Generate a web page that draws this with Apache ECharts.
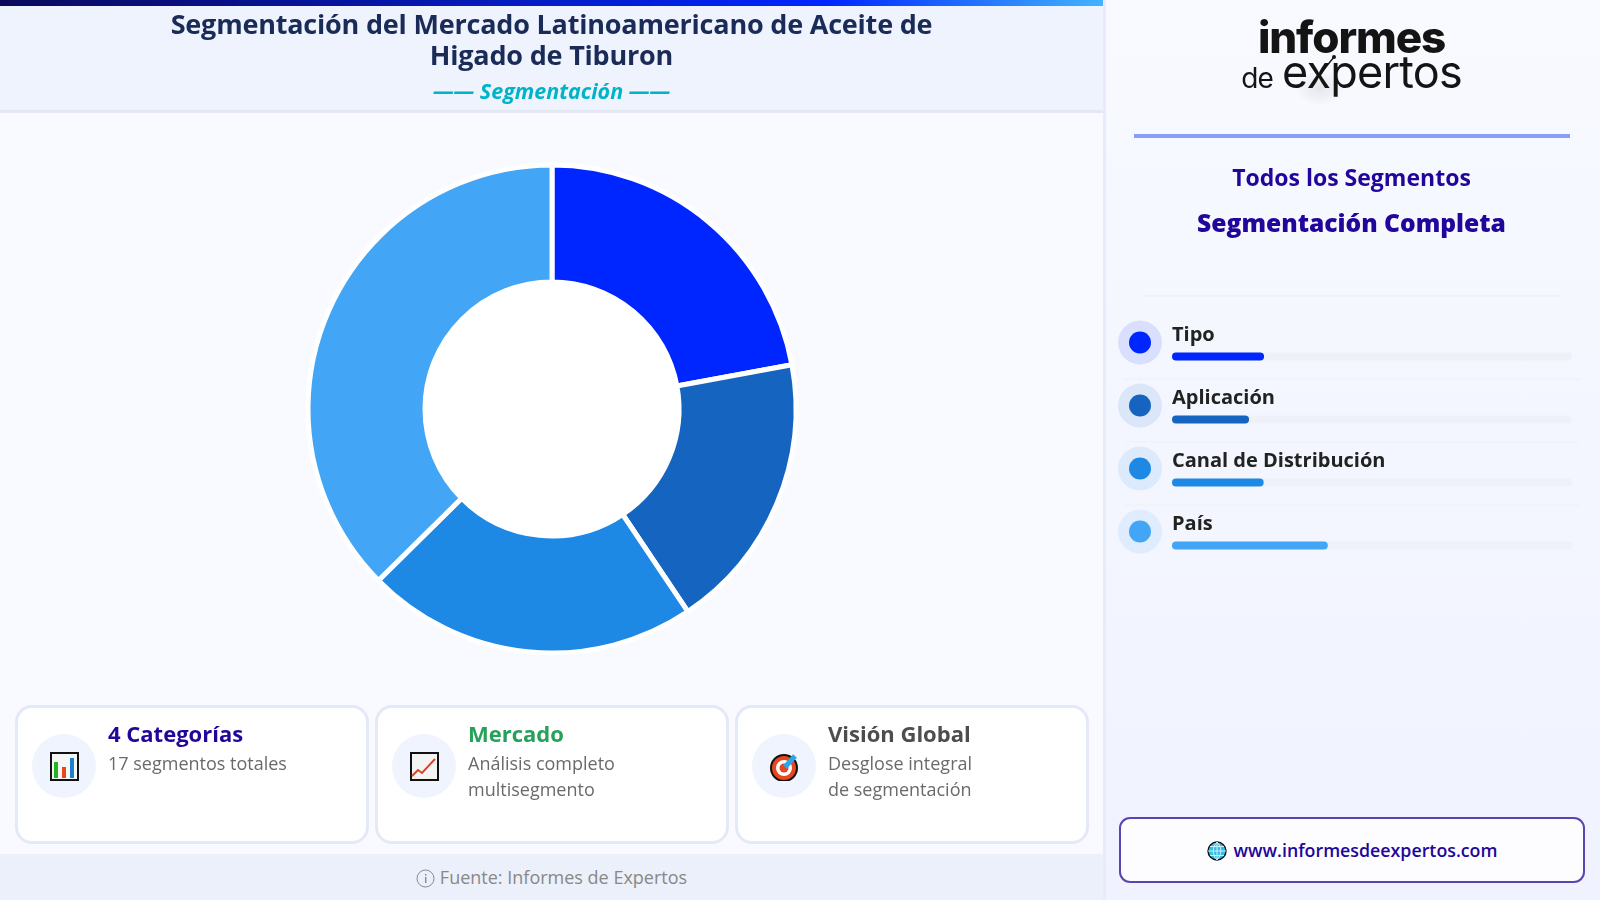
<!DOCTYPE html>
<html lang="es"><head><meta charset="utf-8">
<script src="https://cdn.jsdelivr.net/npm/echarts@6/dist/echarts.min.js"></script>
<style>
*{box-sizing:border-box;margin:0;padding:0}
html,body{width:1600px;height:900px;overflow:hidden;font-family:"Noto Sans","Open Sans",sans-serif;background:#f8faff}
.abs{position:absolute}
#chart{position:absolute;left:0;top:0;width:1600px;height:900px;z-index:1}
#topbar{left:0;top:0;width:1103px;height:6px;background:linear-gradient(90deg,#0a0a5c,#0026ff 75%,#42b4ff)}
#header{left:0;top:6px;width:1103px;height:107px;background:#eef3fe;border-bottom:3px solid #e3e9f4}
#title{left:100px;top:8px;width:903px;text-align:center;font-family:"Open Sans";font-weight:700;font-size:27px;line-height:31px;color:#1a2b57;letter-spacing:-.2px}
#sub{left:0;top:77px;width:1103px;text-align:center;font-family:"Open Sans";font-style:italic;font-weight:700;font-size:21.5px;line-height:28px;color:#00b4c8}
#side{left:1103px;top:0;width:497px;height:900px;background:linear-gradient(180deg,#f8faff,#f0f2ff);border-left:3px solid #e6ecfa}
#hole{left:426px;top:283px;width:252px;height:252px;border-radius:50%;background:#fff;border:1.5px solid #f3f6fc}
.card{top:705px;height:139px;background:#fff;border:3px solid #e3e9f6;border-radius:17px}
.ic{top:734px;width:64px;height:64px;border-radius:50%;background:#f0f4fe}
.ic svg{position:absolute;left:18px;top:18px;width:29px;height:29px}
.ct{top:719px;font-weight:700;font-size:22px;line-height:29px;font-family:"Open Sans"}
.cs{top:750px;font-size:18px;line-height:26px;color:#6a6a6a;font-family:"Open Sans";white-space:pre-line}
#foot{left:0;top:854px;width:1103px;height:46px;background:#ebf0fa;color:#888;font-size:18px;line-height:46px;text-align:center;font-family:"Open Sans"}
#foot svg{width:19px;height:19px;vertical-align:-4px;margin-right:5px}
#logo1{left:1103px;top:12px;width:497px;text-align:center;font-family:Inter;font-weight:800;font-size:44px;line-height:50px;color:#141414;letter-spacing:-1.1px}
#logo2{left:1103px;top:44px;width:497px;text-align:center;font-family:Inter;font-weight:400;color:#141414;line-height:56px;letter-spacing:-.8px}
#glow{left:1295px;top:70px;width:50px;height:36px;border-radius:50%;background:radial-gradient(closest-side,rgba(0,0,0,.08),rgba(0,0,0,0))}
#slash{left:1315px;top:52px;width:26px;height:26px}
#rule{left:1134px;top:134px;width:436px;height:4px;background:#8a9ef5}
#s1{left:1103px;top:159px;width:497px;text-align:center;font-weight:700;font-size:23px;line-height:36px;color:#22059a;font-family:"Open Sans"}
#s2{left:1103px;top:205px;width:497px;text-align:center;font-weight:800;font-size:24.6px;line-height:36px;color:#22059a;font-family:"Open Sans"}
#thin{left:1144px;top:295px;width:416px;height:2px;background:#eef1f8}
.sep{left:1124px;width:456px;height:2px;background:#f1f3fb}
#url{left:1119px;top:817px;width:466px;height:66px;background:#fdfdff;border:2.5px solid #5a45b0;border-radius:11px;text-align:center;font-weight:600;font-size:17.8px;line-height:62px;color:#22059a;font-family:"Open Sans"}
#url svg{width:20px;height:20px;vertical-align:-4px;margin-right:7px}
.t{z-index:2}
</style></head><body>
<div class="abs" id="topbar"></div>
<div class="abs" id="header"></div>
<div class="abs t" id="title">Segmentación del Mercado Latinoamericano de Aceite de<br>Higado de Tiburon</div>
<div class="abs t" id="sub">—— Segmentación ——</div>
<div class="abs" id="side"></div>
<div class="abs" id="hole"></div>
<div class="abs" id="glow"></div>
<div class="abs t" id="logo1">informes</div>
<div class="abs t" id="logo2"><span style="font-size:28px;margin-right:9px">de</span><span style="font-size:45px">expertos</span></div>
<svg class="abs t" id="slash" viewBox="0 0 26 26"><path d="M6 21L19 5" stroke="#141414" stroke-width="1.4"/><circle cx="19" cy="5" r="2" fill="#141414"/></svg>
<div class="abs" id="rule"></div>
<div class="abs t" id="s1">Todos los Segmentos</div>
<div class="abs t" id="s2">Segmentación Completa</div>
<div class="abs" id="thin"></div>
<div class="abs sep" style="top:378px"></div>
<div class="abs sep" style="top:441px"></div>
<div class="abs sep" style="top:504px"></div>
<div class="abs card" style="left:15px;width:354px"></div>
<div class="abs card" style="left:375px;width:354px"></div>
<div class="abs card" style="left:735px;width:354px"></div>
<div class="abs ic" style="left:32px"><svg viewBox="0 0 29 29"><rect x="1" y="1" width="27" height="27" fill="#f6f6f6" stroke="#111" stroke-width="2"/><rect x="4" y="10" width="4" height="16" fill="#22b522"/><rect x="12" y="15" width="4" height="11" fill="#e8461e"/><rect x="20" y="6" width="4" height="20" fill="#1b7fd0"/></svg></div>
<div class="abs ic" style="left:392px"><svg viewBox="0 0 29 29"><rect x="1" y="1" width="27" height="27" fill="#f4f4f4" stroke="#111" stroke-width="2"/><path d="M2 24L8 18L12 21L25 7" fill="none" stroke="#d9432a" stroke-width="2"/></svg></div>
<div class="abs ic" style="left:752px"><svg viewBox="0 0 29 29"><circle cx="14" cy="16" r="13" fill="#e8461e" stroke="#111" stroke-width="2"/><circle cx="14" cy="16" r="8" fill="#fff"/><circle cx="14" cy="16" r="4.5" fill="#e8461e"/><path d="M15 15L25 4" stroke="#2ba6e8" stroke-width="5"/></svg></div>
<div class="abs ct t" style="left:108px;color:#22059a">4 Categorías</div>
<div class="abs cs t" style="left:108px">17 segmentos totales</div>
<div class="abs ct t" style="left:468px;color:#27a05a">Mercado</div>
<div class="abs cs t" style="left:468px">Análisis completo
multisegmento</div>
<div class="abs ct t" style="left:828px;color:#4d4d4d">Visión Global</div>
<div class="abs cs t" style="left:828px">Desglose integral
de segmentación</div>
<div class="abs t" id="foot"><svg viewBox="0 0 19 19"><circle cx="9.5" cy="9.5" r="8.5" fill="none" stroke="#888" stroke-width="1"/><rect x="9" y="8" width="1.4" height="6" fill="#888"/><rect x="9" y="5" width="1.4" height="1.6" fill="#888"/></svg>Fuente: Informes de Expertos</div>
<div class="abs t" id="url"><svg viewBox="0 0 20 20"><circle cx="10" cy="10" r="9" fill="#35bfe8" stroke="#111" stroke-width="1.4"/><path d="M1 10H19M10 1V19M3 5.5H17M3 14.5H17M10 1C5 6 5 14 10 19M10 1C15 6 15 14 10 19" fill="none" stroke="#d8f4fb" stroke-width=".9"/></svg>www.informesdeexpertos.com</div>
<div id="chart"></div>
<script>
const categories = ["Tipo", "Aplicación", "Canal de Distribución", "País"];
const segmentShares = [22.1, 18.5, 22.0, 37.4];
const barAxisMax = 96;
const colors = ["#0026ff", "#1565c0", "#1e88e5", "#42a5f5"];
const chart = echarts.init(document.getElementById('chart'), null, {renderer:'canvas'});
chart.setOption({
  animation:false,
  backgroundColor:'transparent',
  grid:[
    {left:1172,top:325,width:400,height:252,containLabel:false},
    {left:1118,top:311,width:44,height:252}
  ],
  xAxis:[
    {gridIndex:0,type:'value',min:0,max:barAxisMax,show:false},
    {gridIndex:1,type:'value',min:-1,max:1,show:false}
  ],
  yAxis:[
    {gridIndex:0,type:'category',data:categories,inverse:true,show:false},
    {gridIndex:1,type:'category',data:categories,inverse:true,show:false}
  ],
  series:[
    {type:'pie',center:[552,409],radius:[127,244],startAngle:90,silent:true,
     label:{show:false},labelLine:{show:false},
     itemStyle:{borderColor:'#fff',borderWidth:5},
     data:categories.map((c,i)=>({name:c,value:segmentShares[i],itemStyle:{color:colors[i]}}))},
    {type:'bar',xAxisIndex:0,yAxisIndex:0,barWidth:8,silent:true,
     showBackground:true,backgroundStyle:{color:'#f0f1f8',borderRadius:4},
     data:categories.map((c,i)=>({value:segmentShares[i],itemStyle:{color:colors[i],borderRadius:4}})),
     label:{show:true,position:[0,-30],formatter:'{b}',fontFamily:'Open Sans',fontWeight:700,fontSize:20,color:'#222',lineHeight:26}},
    {type:'scatter',xAxisIndex:1,yAxisIndex:1,symbolSize:44,silent:true,
     data:categories.map((c,i)=>({value:[0,c],itemStyle:{color:colors[i],opacity:.11}}))},
    {type:'scatter',xAxisIndex:1,yAxisIndex:1,symbolSize:22,silent:true,
     data:categories.map((c,i)=>({value:[0,c],itemStyle:{color:colors[i],opacity:1}}))}
  ]
});
</script>
</body></html>
